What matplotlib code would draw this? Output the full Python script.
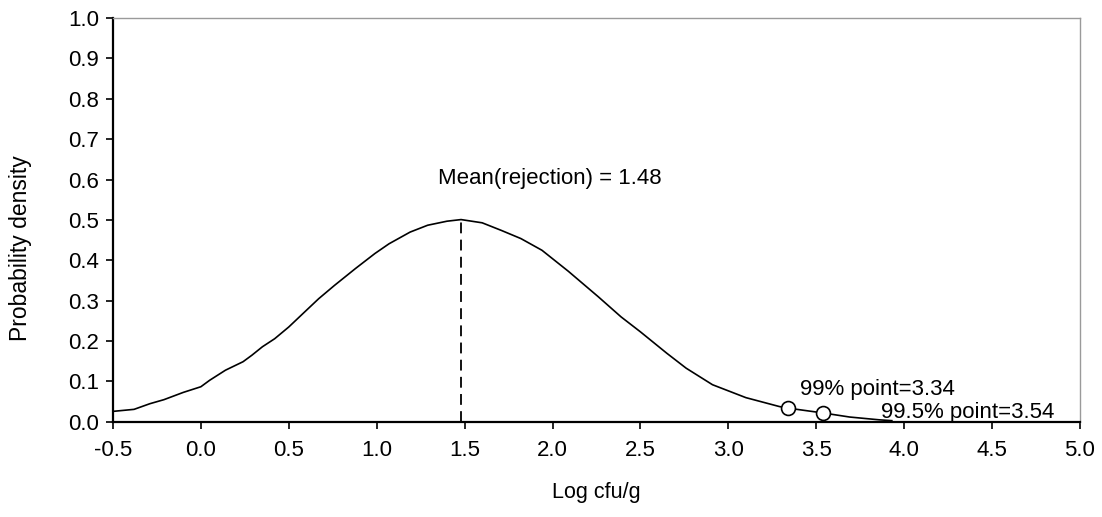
import matplotlib
matplotlib.use('Agg')
from matplotlib import pyplot as plt

plt.rcParams['font.family'] = ['Liberation Sans', 'DejaVu Sans']

# rejection density curve (log cfu/g vs probability density)
log_cfu = [-0.50, -0.38, -0.29, -0.21, -0.10, 0.00, 0.05, 0.14, 0.24, 0.29,
           0.35, 0.42, 0.50, 0.58, 0.67, 0.76, 0.88, 0.99, 1.07, 1.19,
           1.29, 1.40, 1.48, 1.60, 1.71, 1.82, 1.94, 2.09, 2.26, 2.39,
           2.50, 2.65, 2.76, 2.91, 3.10, 3.29, 3.34, 3.54, 3.69, 3.86, 3.93]
density = [0.026, 0.031, 0.045, 0.055, 0.073, 0.087, 0.103, 0.128, 0.149, 0.165,
           0.186, 0.206, 0.235, 0.268, 0.305, 0.338, 0.380, 0.417, 0.441, 0.470,
           0.487, 0.497, 0.501, 0.493, 0.474, 0.454, 0.425, 0.373, 0.310, 0.260,
           0.223, 0.170, 0.133, 0.092, 0.060, 0.038, 0.034, 0.022, 0.012, 0.005, 0.003]

mean_x = 1.48
mean_y = 0.501

pct_x = [3.34, 3.54]
pct_y = [0.034, 0.022]
pct_labels = ['99% point=3.34', '99.5% point=3.54']

xticks = [-0.5, 0.0, 0.5, 1.0, 1.5, 2.0, 2.5, 3.0, 3.5, 4.0, 4.5, 5.0]
yticks = [0.0, 0.1, 0.2, 0.3, 0.4, 0.5, 0.6, 0.7, 0.8, 0.9, 1.0]

fig = plt.figure(figsize=(11.02, 5.17), dpi=100)
ax = fig.add_axes([0.1025, 0.184, 0.8775, 0.781])

ax.plot(log_cfu, density, color='black', lw=1.2)
ax.plot([mean_x, mean_x], [0, mean_y], color='black', lw=1.3, linestyle=(0, (6, 3.5)))
ax.plot(pct_x, pct_y, 'o', ms=10, mfc='white', mec='black', mew=1.2, zorder=5)

ax.text(1.35, 0.603, 'Mean(rejection) = 1.48', fontsize=16, va='center', ha='left')
ax.text(3.41, 0.08, pct_labels[0], fontsize=16, va='center', ha='left')
ax.text(3.87, 0.022, pct_labels[1], fontsize=16, va='center', ha='left')

ax.set_xlim(-0.5, 5.0)
ax.set_ylim(0, 1.0)
ax.set_xticks(xticks)
ax.set_xticklabels(['%.1f' % t for t in xticks])
ax.set_yticks(yticks)
ax.set_yticklabels(['%.1f' % t for t in yticks])
ax.tick_params(direction='out', length=5, width=1.2, labelsize=16)
ax.tick_params(axis='x', pad=8)
ax.tick_params(axis='y', pad=5)

for side in ['left', 'bottom']:
    ax.spines[side].set_linewidth(1.6)
    ax.spines[side].set_color('black')
for side in ['top', 'right']:
    ax.spines[side].set_linewidth(1.0)
    ax.spines[side].set_color('#9a9a9a')

ax.set_xlabel('Log cfu/g', fontsize=15.5)
ax.set_ylabel('Probability density', fontsize=16.5)
ax.xaxis.label.set_va('center')
ax.yaxis.label.set_va('center')
ax.xaxis.set_label_coords(0.5, -0.176)
ax.yaxis.set_label_coords(-0.096, 0.43)

fig.savefig('out.png', dpi=100)
